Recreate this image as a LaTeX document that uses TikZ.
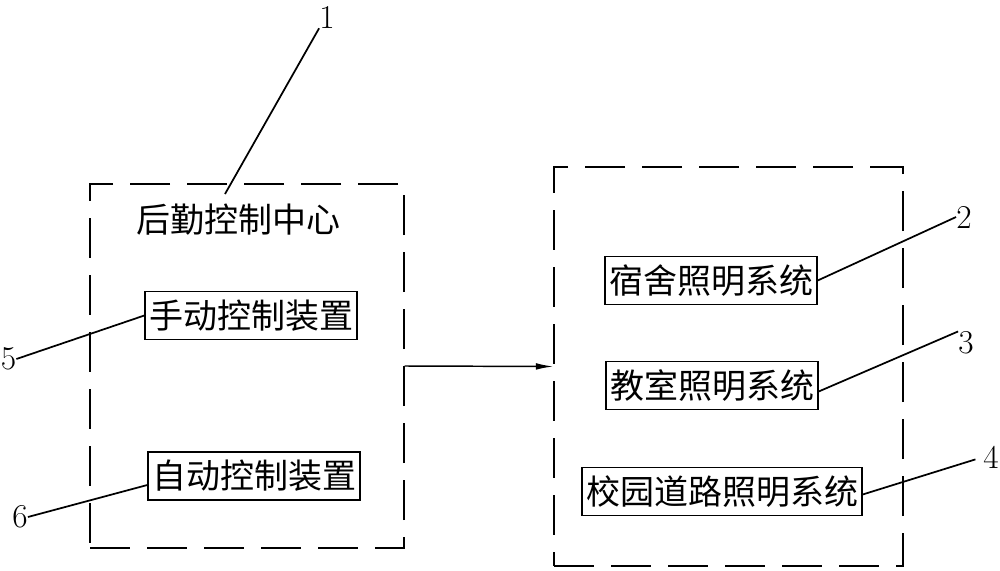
\documentclass[tikz,border=0pt]{standalone}
\usepackage{fontspec}
\usepackage{tikz}
\usetikzlibrary{arrows.meta,calc}
\newfontfamily\cjk{Noto Sans CJK SC}

\tikzset{
	groupbox/.style={draw,line width=1.1pt,dash pattern=on 30pt off 12.75pt,inner sep=0pt},
	unitbox/.style={draw,line width=1pt,inner xsep=3pt,inner ysep=2pt,minimum height=36pt,font=\cjk\fontsize{25.5}{30}\selectfont},
	numlabel/.style={inner sep=0pt,font=\fontsize{25}{30}\selectfont},
	leader/.style={line width=1.3pt}
}

\begin{document}
\begin{tikzpicture}[x=0.75pt,y=0.75pt,yscale=-1,xscale=1]
	\useasboundingbox (0,0) rectangle (1000,571);

	% Dashed group boxes
	\node [groupbox,minimum width=235.5pt,minimum height=273pt] (logistics) at (247,366) {};
	\node [groupbox,minimum width=261.75pt,minimum height=299.25pt] (lighting) at (728.5,366.5) {};

	% Text Node
	\node [font=\cjk\fontsize{25.5}{30}\selectfont,inner sep=0pt] (center) at (238.5,220) {后勤控制中心};
	\node [unitbox] (manual) at (251,315.5) {手动控制装置};
	\node [unitbox] (auto) at (254,476) {自动控制装置};
	\node [unitbox] (dorm) at (711,280.5) {宿舍照明系统};
	\node [unitbox] (class) at (712,385.5) {教室照明系统};
	\node [unitbox] (road) at (722,491.5) {校园道路照明系统};

	% Number labels
	\node [numlabel] (n1) at (327,17) {1};
	\node [numlabel] (n2) at (964,217) {2};
	\node [numlabel] (n3) at (966,343) {3};
	\node [numlabel] (n4) at (991,457) {4};
	\node [numlabel] (n5) at (8.5,359) {5};
	\node [numlabel] (n6) at (20,517) {6};

	%Straight Lines
	\draw [line width=1.1pt,-{Latex[length=13pt,width=5pt]}] (logistics.east) -- (lighting.west);

	%Leader Lines
	\coordinate (c1) at ($(center.north)+(-13.5,-10)$);
	\draw [leader] (c1) -- (n1.south west);
	\draw [leader] (dorm.east) -- (n2.west);
	\draw [leader] ($(class.east)+(0,6)$) -- (n3.north west);
	\draw [leader,shorten >=6pt] ($(road.east)+(0,3)$) -- (n4.west);
	\draw [leader] (manual.west) -- (n5.east);
	\draw [leader] ($(auto.west)+(0,9)$) -- (n6.east);
\end{tikzpicture}
\end{document}
